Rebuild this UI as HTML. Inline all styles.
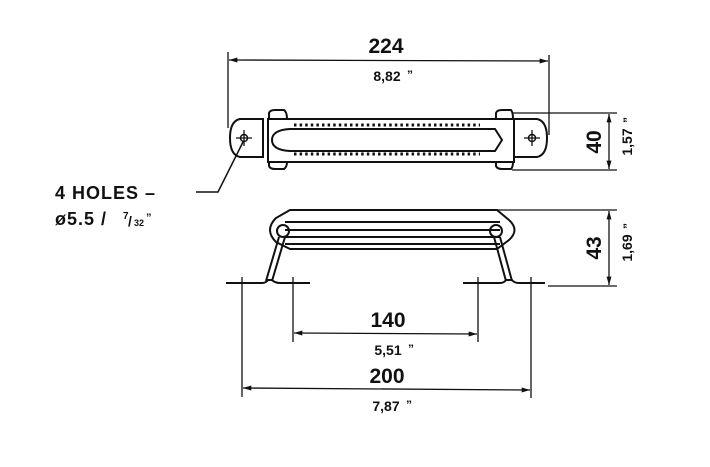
<!DOCTYPE html>
<html><head><meta charset="utf-8"><style>
html,body{margin:0;padding:0;background:#fff}
svg{display:block}
text{font-family:"Liberation Sans",Arial,sans-serif;font-weight:bold;fill:#111}
</style></head><body>
<svg width="710" height="467" viewBox="0 0 710 467" xmlns="http://www.w3.org/2000/svg">
<defs>
<marker id="a" viewBox="0 0 10 6" refX="10" refY="3" markerWidth="12" markerHeight="5" orient="auto-start-reverse" markerUnits="userSpaceOnUse"><path d="M0,0 L10,3 L0,6z" fill="#111"/></marker>
</defs>
<g stroke="#111" fill="none" stroke-width="1.3">
<line x1="228" y1="52" x2="228" y2="128"/>
<line x1="549" y1="55" x2="549" y2="135"/>
<line x1="229" y1="60" x2="548" y2="61" marker-start="url(#a)" marker-end="url(#a)"/>
<g stroke-width="2">
<path d="M263,119 L240,119 Q230,121 230,138 Q230,155 240,157 L263,157 Z"/>
<path d="M514,119 L537,119 Q547,121 547,138 Q547,155 537,157 L514,157 Z"/>
<rect x="268" y="119" width="246" height="43"/>
<line x1="263" y1="119" x2="263" y2="157"/><line x1="268" y1="119" x2="268" y2="160"/>
<line x1="514" y1="119" x2="514" y2="160"/>
<path d="M272,140 Q272,130 290,129 L495,129 L502,140 L495,151 L290,151 Q272,150 272,140 Z"/>
<path d="M269,119 L269,113 Q270,110 275,110 L284,110 Q287,112 287,119"/>
<path d="M496,119 L496,113 Q497,110 502,110 L511,110 Q513,112 513,119"/>
<path d="M269,162 L269,166 Q270,169 275,169 L284,169 Q287,167 287,162"/>
<path d="M496,162 L496,166 Q497,169 502,169 L511,169 Q513,167 513,162"/>
</g>
<circle cx="244" cy="138" r="3.5" stroke-width="1.5"/>
<circle cx="532" cy="138" r="3.5" stroke-width="1.5"/>
<path d="M236,138 H252 M244,130 V146 M524,138 H540 M532,130 V146"/>
<g stroke-dasharray="2.5,3.1" stroke-width="3">
<line x1="294" y1="125" x2="480" y2="125"/>
<line x1="294" y1="154" x2="480" y2="154"/>
</g>
<line x1="512" y1="113" x2="617" y2="113"/>
<line x1="512" y1="170" x2="617" y2="170"/>
<line x1="609" y1="114" x2="609" y2="169" marker-start="url(#a)" marker-end="url(#a)"/>
<path d="M243,142 L218,192 L196,192" stroke-width="1.5"/>
<g stroke-width="2">
<path d="M290,210 L497,210 L509,220 Q520,230 509,240 L497,249 L290,249 L276,242 Q264,230 276,218 Z"/>
<line x1="285" y1="222" x2="500" y2="222"/>
<line x1="285" y1="230" x2="500" y2="230"/>
<line x1="285" y1="237" x2="500" y2="237"/>
<line x1="285" y1="244" x2="500" y2="244"/>
<circle cx="283" cy="231" r="6"/><circle cx="496" cy="231" r="6"/>
<path d="M279,237 L266,281 M285,237 L272,281"/>
<path d="M494,237 L506,281 M500,237 L512,281"/>
<path d="M226,283 L262,283 Q266,283 268,280 L272,280 Q275,283 280,283 L310,283"/>
<path d="M463,283 L500,283 Q504,283 506,280 L512,280 Q514,283 519,283 L545,283"/>
</g>
<line x1="497" y1="210" x2="617" y2="210"/>
<line x1="548" y1="286" x2="617" y2="286"/>
<line x1="609" y1="211" x2="609" y2="285" marker-start="url(#a)" marker-end="url(#a)"/>
<line x1="242" y1="277" x2="242" y2="397"/>
<line x1="293" y1="277" x2="293" y2="342"/>
<line x1="478" y1="277" x2="478" y2="342"/>
<line x1="531" y1="277" x2="531" y2="398"/>
<line x1="294" y1="333" x2="477" y2="334" marker-start="url(#a)" marker-end="url(#a)"/>
<line x1="243" y1="388" x2="530" y2="390" marker-start="url(#a)" marker-end="url(#a)"/>
</g>
<text x="386" y="53" font-size="21" text-anchor="middle">224</text>
<text x="387" y="81" font-size="14" text-anchor="middle">8,82</text><text x="407" y="79" font-size="12">”</text>
<text x="388" y="327" font-size="21" text-anchor="middle">140</text>
<text x="388" y="355" font-size="14" text-anchor="middle">5,51</text><text x="408" y="353" font-size="12">”</text>
<text x="387" y="383" font-size="21" text-anchor="middle">200</text>
<text x="386" y="411" font-size="14" text-anchor="middle">7,87</text><text x="406" y="409" font-size="12">”</text>
<text transform="translate(601,142) rotate(-90)" font-size="21" text-anchor="middle">40</text>
<text transform="translate(632,142) rotate(-90)" font-size="14" text-anchor="middle">1,57</text>
<text transform="translate(632,123) rotate(-90)" font-size="12">”</text>
<text transform="translate(601,248) rotate(-90)" font-size="21" text-anchor="middle">43</text>
<text transform="translate(632,248) rotate(-90)" font-size="14" text-anchor="middle">1,69</text>
<text transform="translate(632,229) rotate(-90)" font-size="12">”</text>
<text x="55" y="199" font-size="18" letter-spacing="1">4 HOLES –</text>
<text x="55" y="225" font-size="18" letter-spacing="1">ø5.5 /</text>
<text x="123" y="219" font-size="10" font-weight="normal">7</text>
<text x="128" y="226" font-size="14" font-weight="normal">/</text>
<text x="134" y="226" font-size="9" font-weight="normal">32</text>
<text x="146" y="221" font-size="11">”</text>
</svg>
</body></html>
